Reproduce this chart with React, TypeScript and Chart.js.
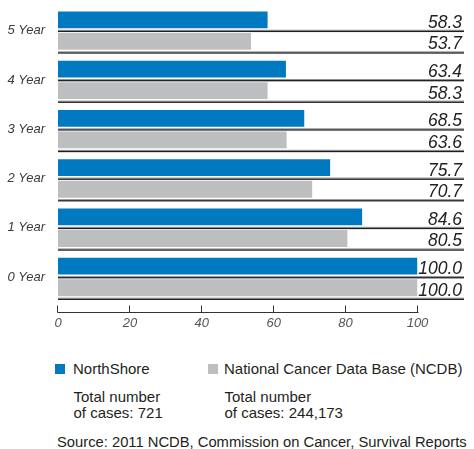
import React, { useEffect, useRef } from 'react';
import { Chart, registerables } from 'chart.js';

Chart.register(...registerables);

const categories = ['5 Year', '4 Year', '3 Year', '2 Year', '1 Year', '0 Year'];
const northShore = [58.3, 63.4, 68.5, 75.7, 84.6, 100.0];
const ncdb = [53.7, 58.3, 63.6, 70.7, 80.5, 100.0];
const xTickValues = [0, 20, 40, 60, 80, 100];
const seriesNames = ['NorthShore', 'National Cancer Data Base (NCDB)'];
const caseCounts = ['721', '244,173'];
const sourceText = 'Source: 2011 NCDB, Commission on Cancer, Survival Reports';

const BLUE = '#0079c1';
const GRAY = '#bdbec0';
const FONT = "'Liberation Sans', Arial, Helvetica, sans-serif";

const decorPlugin = {
  id: 'decor',
  afterDatasetsDraw(chart: any) {
    const { ctx, chartArea, scales } = chart;
    const xs = scales.x;
    const lineEnd = chart.width - 10;
    const textRight = chart.width - 12;
    ctx.save();
    chart.data.datasets.forEach((ds: any, di: number) => {
      const meta = chart.getDatasetMeta(di);
      meta.data.forEach((el: any, i: number) => {
        const { y, height } = el.getProps(['y', 'height'], true);
        const bottom = y + height / 2;
        ctx.fillStyle = '#8f8f8f';
        ctx.fillRect(chartArea.left, bottom + 1.5, lineEnd - chartArea.left, 1);
        ctx.fillStyle = '#1e1e1e';
        ctx.fillRect(chartArea.left, bottom + 2.5, lineEnd - chartArea.left, 1.3);
        ctx.font = `italic 17.5px ${FONT}`;
        ctx.textAlign = 'right';
        ctx.textBaseline = 'alphabetic';
        ctx.fillStyle = '#222222';
        ctx.fillText(Number(ds.data[i]).toFixed(1), textRight, bottom - 0.5);
      });
    });
    // axis line with upward ticks
    const ay = Math.round(chartArea.bottom + 10) + 0.5;
    ctx.strokeStyle = '#333333';
    ctx.lineWidth = 1;
    ctx.beginPath();
    const x0 = xs.getPixelForValue(xTickValues[0]);
    const x1 = xs.getPixelForValue(xTickValues[xTickValues.length - 1]);
    ctx.moveTo(Math.round(x0) - 0.5, ay);
    ctx.lineTo(Math.round(x1) + 0.5, ay);
    xTickValues.forEach((v) => {
      const px = Math.round(xs.getPixelForValue(v)) - 0.5;
      ctx.moveTo(px, ay - 7);
      ctx.lineTo(px, ay);
    });
    ctx.stroke();
    ctx.restore();
  },
};

function ChartCanvas() {
  const ref = useRef<HTMLCanvasElement | null>(null);
  useEffect(() => {
    if (!ref.current) return;
    const chart = new Chart(ref.current, {
      type: 'bar',
      data: {
        labels: categories,
        datasets: [
          {
            label: seriesNames[0],
            data: northShore,
            backgroundColor: BLUE,
            borderWidth: 0,
            categoryPercentage: 0.876,
            barPercentage: 0.78,
          },
          {
            label: seriesNames[1],
            data: ncdb,
            backgroundColor: GRAY,
            borderWidth: 0,
            categoryPercentage: 0.876,
            barPercentage: 0.78,
          },
        ],
      },
      options: {
        indexAxis: 'y',
        animation: false,
        responsive: true,
        maintainAspectRatio: false,
        layout: { padding: { top: 6, right: 56.5, left: 0, bottom: 0 } },
        plugins: {
          legend: { display: false },
          tooltip: { enabled: false },
        },
        scales: {
          x: {
            type: 'linear',
            min: 0,
            max: 100,
            afterBuildTicks: (scale: any) => {
              scale.ticks = xTickValues.map((v) => ({ value: v }));
            },
            afterFit: (scale: any) => {
              scale.height = 38.4;
              scale.paddingLeft = 0;
              scale.paddingRight = 0;
            },
            grid: { display: false, drawTicks: false },
            border: { display: false },
            ticks: {
              padding: 14,
              color: '#555555',
              font: { family: FONT, size: 13, style: 'italic' },
              maxRotation: 0,
            },
          },
          y: {
            type: 'category',
            afterFit: (scale: any) => {
              scale.width = 58;
              scale.paddingTop = 0;
              scale.paddingBottom = 0;
            },
            grid: { display: false, drawTicks: false },
            border: { display: false },
            ticks: {
              padding: 13,
              color: '#3a3a3a',
              font: { family: FONT, size: 13, style: 'italic' },
            },
          },
        },
      },
      plugins: [decorPlugin],
    } as any);
    return () => chart.destroy();
  }, []);
  return <canvas ref={ref} />;
}

export default function App() {
  const textStyle: React.CSSProperties = {
    position: 'absolute',
    fontFamily: FONT,
    fontSize: 15,
    lineHeight: '16px',
    color: '#231f20',
    whiteSpace: 'nowrap',
  };
  return (
    <div
      style={{
        position: 'fixed',
        left: 0,
        top: 0,
        width: 474,
        height: 449,
        background: '#ffffff',
        overflow: 'hidden',
      }}
    >
      <div style={{ position: 'absolute', left: 0, top: 0, width: 474, height: 340 }}>
        <ChartCanvas />
      </div>
      <div style={{ position: 'absolute', left: 55, top: 364, width: 10, height: 10, background: BLUE }} />
      <div style={{ ...textStyle, left: 73, top: 361 }}>{seriesNames[0]}</div>
      <div style={{ position: 'absolute', left: 208, top: 364, width: 10, height: 10, background: GRAY }} />
      <div style={{ ...textStyle, left: 224, top: 361 }}>{seriesNames[1]}</div>
      <div style={{ ...textStyle, left: 73.5, top: 388.5 }}>
        Total number
        <br />
        of cases: {caseCounts[0]}
      </div>
      <div style={{ ...textStyle, left: 224.5, top: 388.5 }}>
        Total number
        <br />
        of cases: {caseCounts[1]}
      </div>
      <div style={{ ...textStyle, left: 57, top: 434, fontSize: 14.75 }}>{sourceText}</div>
    </div>
  );
}
